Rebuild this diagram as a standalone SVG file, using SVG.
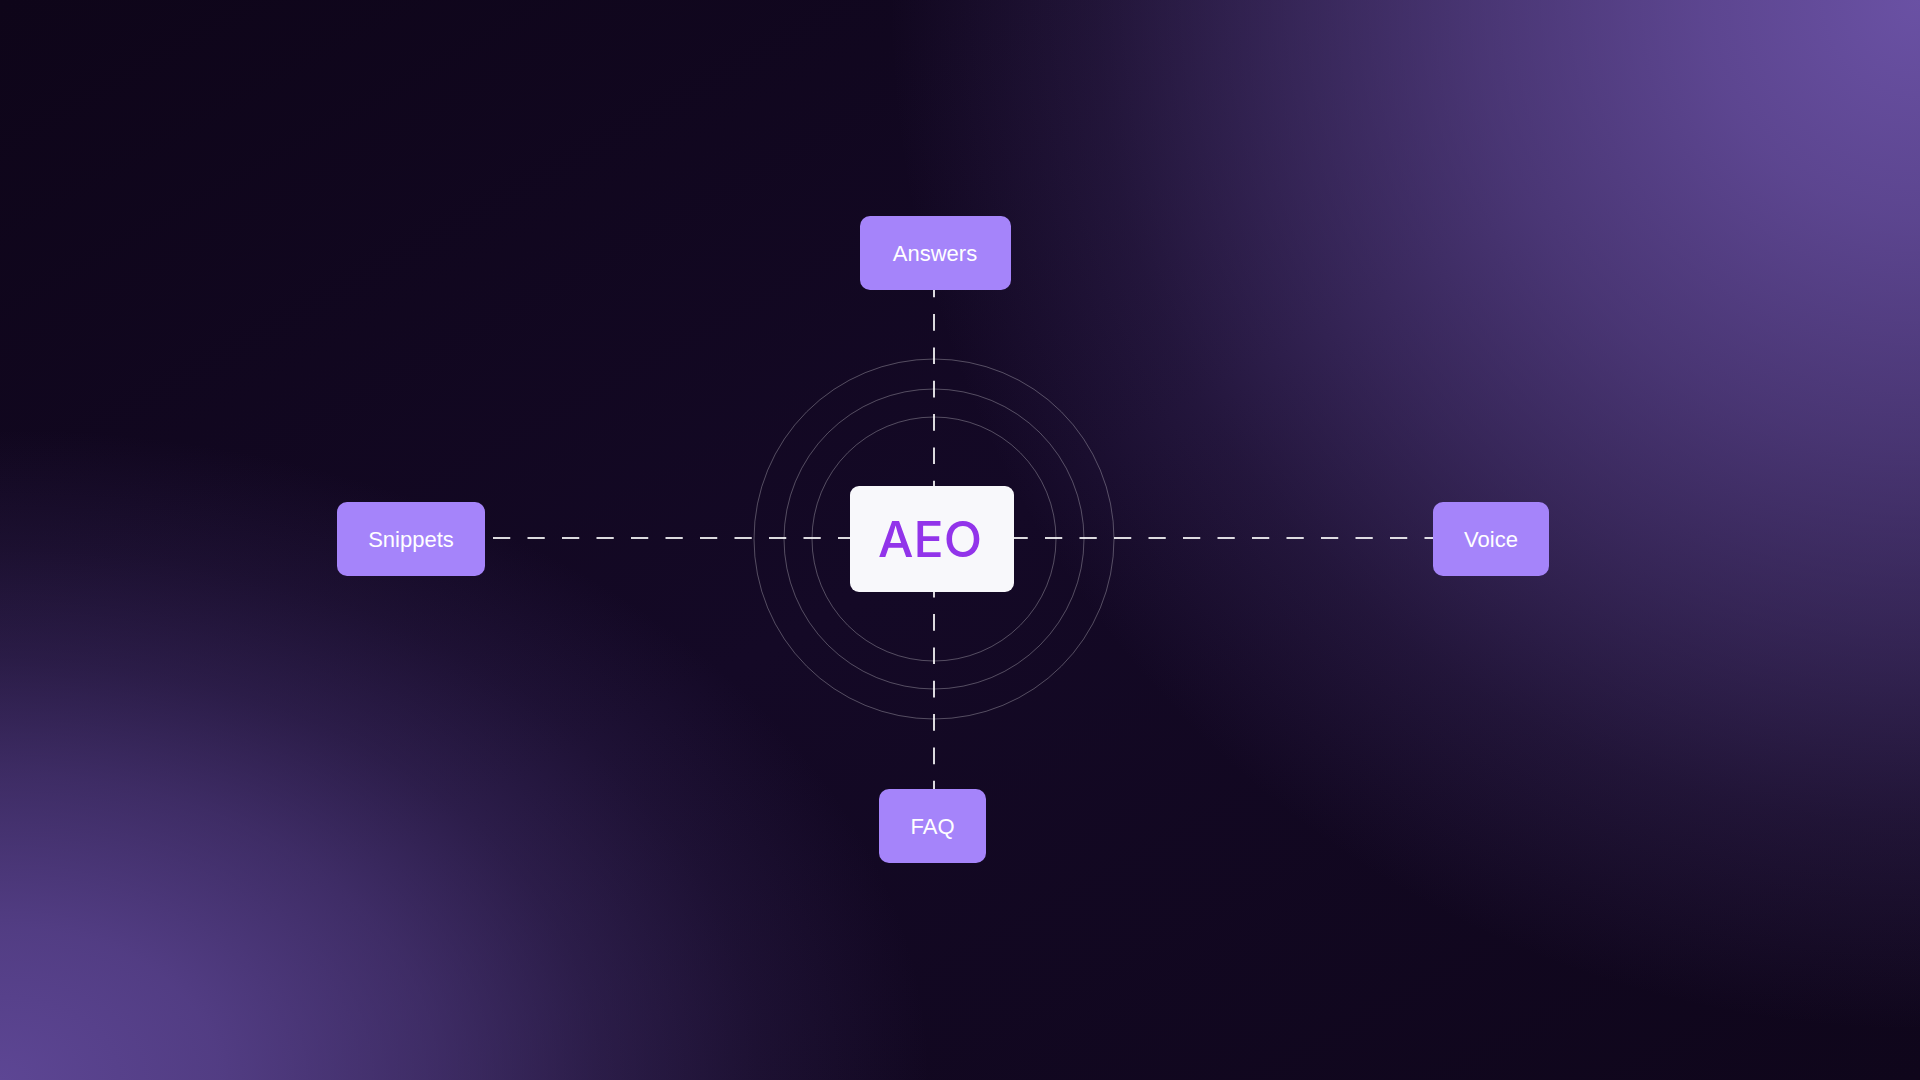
<svg xmlns="http://www.w3.org/2000/svg" width="1920" height="1080" viewBox="0 0 1920 1080">
  <defs>
    <linearGradient id="base" x1="0" y1="0" x2="1" y2="1">
      <stop offset="0" stop-color="#0e0519"/>
      <stop offset="0.5" stop-color="#140926"/>
      <stop offset="1" stop-color="#0f061b"/>
    </linearGradient>
    <radialGradient id="glowTR" gradientUnits="userSpaceOnUse" cx="1920" cy="0" r="1030">
      <stop offset="0" stop-color="#6a51a4" stop-opacity="1"/>
      <stop offset="0.21" stop-color="#6a51a4" stop-opacity="0.84"/>
      <stop offset="0.43" stop-color="#6a51a4" stop-opacity="0.62"/>
      <stop offset="0.62" stop-color="#6a51a4" stop-opacity="0.4"/>
      <stop offset="0.8" stop-color="#6a51a4" stop-opacity="0.18"/>
      <stop offset="1" stop-color="#6a51a4" stop-opacity="0"/>
    </radialGradient>
    <radialGradient id="glowBL" gradientUnits="userSpaceOnUse" cx="0" cy="1080" r="930" gradientTransform="translate(0 1080) scale(1 0.7) translate(0 -1080)">
      <stop offset="0" stop-color="#5d4694" stop-opacity="1"/>
      <stop offset="0.235" stop-color="#5d4694" stop-opacity="0.85"/>
      <stop offset="0.47" stop-color="#5d4694" stop-opacity="0.58"/>
      <stop offset="0.645" stop-color="#5d4694" stop-opacity="0.33"/>
      <stop offset="0.82" stop-color="#5d4694" stop-opacity="0.14"/>
      <stop offset="1" stop-color="#5d4694" stop-opacity="0"/>
    </radialGradient>
    <style>
      .ring { fill: none; stroke: #ffffff; stroke-opacity: 0.28; stroke-width: 1; }
      .conn { stroke: #ffffff; stroke-opacity: 0.85; stroke-width: 2; fill: none; }
      .node rect { fill: #a584fa; }
      .node text { fill: #ffffff; font-family: "Liberation Sans", Arial, sans-serif; font-size: 22px; text-anchor: middle; }
      .hub rect { fill: #f8f8fb; }
      .hub text { fill: #9234ea; font-family: Inter, "Liberation Sans", sans-serif; font-size: 50px; font-weight: 500; text-anchor: middle; }
    </style>
  </defs>

  <rect x="0" y="0" width="1920" height="1080" fill="url(#base)"/>
  <rect x="0" y="0" width="1920" height="1080" fill="url(#glowTR)"/>
  <rect x="0" y="0" width="1920" height="1080" fill="url(#glowBL)"/>

  <g id="rings">
    <circle class="ring" cx="934" cy="539" r="180"/>
    <circle class="ring" cx="934" cy="539" r="150"/>
    <circle class="ring" cx="934" cy="539" r="122"/>
  </g>

  <g id="connectors">
    <line class="conn" x1="493" y1="538" x2="1433" y2="538" stroke-dasharray="17.25 17.25"/>
    <line class="conn" x1="934" y1="290" x2="934" y2="789" stroke-dasharray="16.67 16.67" stroke-dashoffset="9.3"/>
  </g>

  <g id="node-answers" class="node">
    <rect x="860" y="216" width="151" height="74" rx="10"/>
    <text x="935" y="261">Answers</text>
  </g>
  <g id="node-snippets" class="node">
    <rect x="337" y="502" width="148" height="74" rx="10"/>
    <text x="411" y="547">Snippets</text>
  </g>
  <g id="node-voice" class="node">
    <rect x="1433" y="502" width="116" height="74" rx="10"/>
    <text x="1491" y="547">Voice</text>
  </g>
  <g id="node-faq" class="node">
    <rect x="879" y="789" width="107" height="74" rx="10"/>
    <text x="932.5" y="834">FAQ</text>
  </g>
  <g id="node-aeo" class="hub">
    <rect x="850" y="486" width="164" height="106" rx="9"/>
    <text x="930" y="557">AEO</text>
  </g>
</svg>
